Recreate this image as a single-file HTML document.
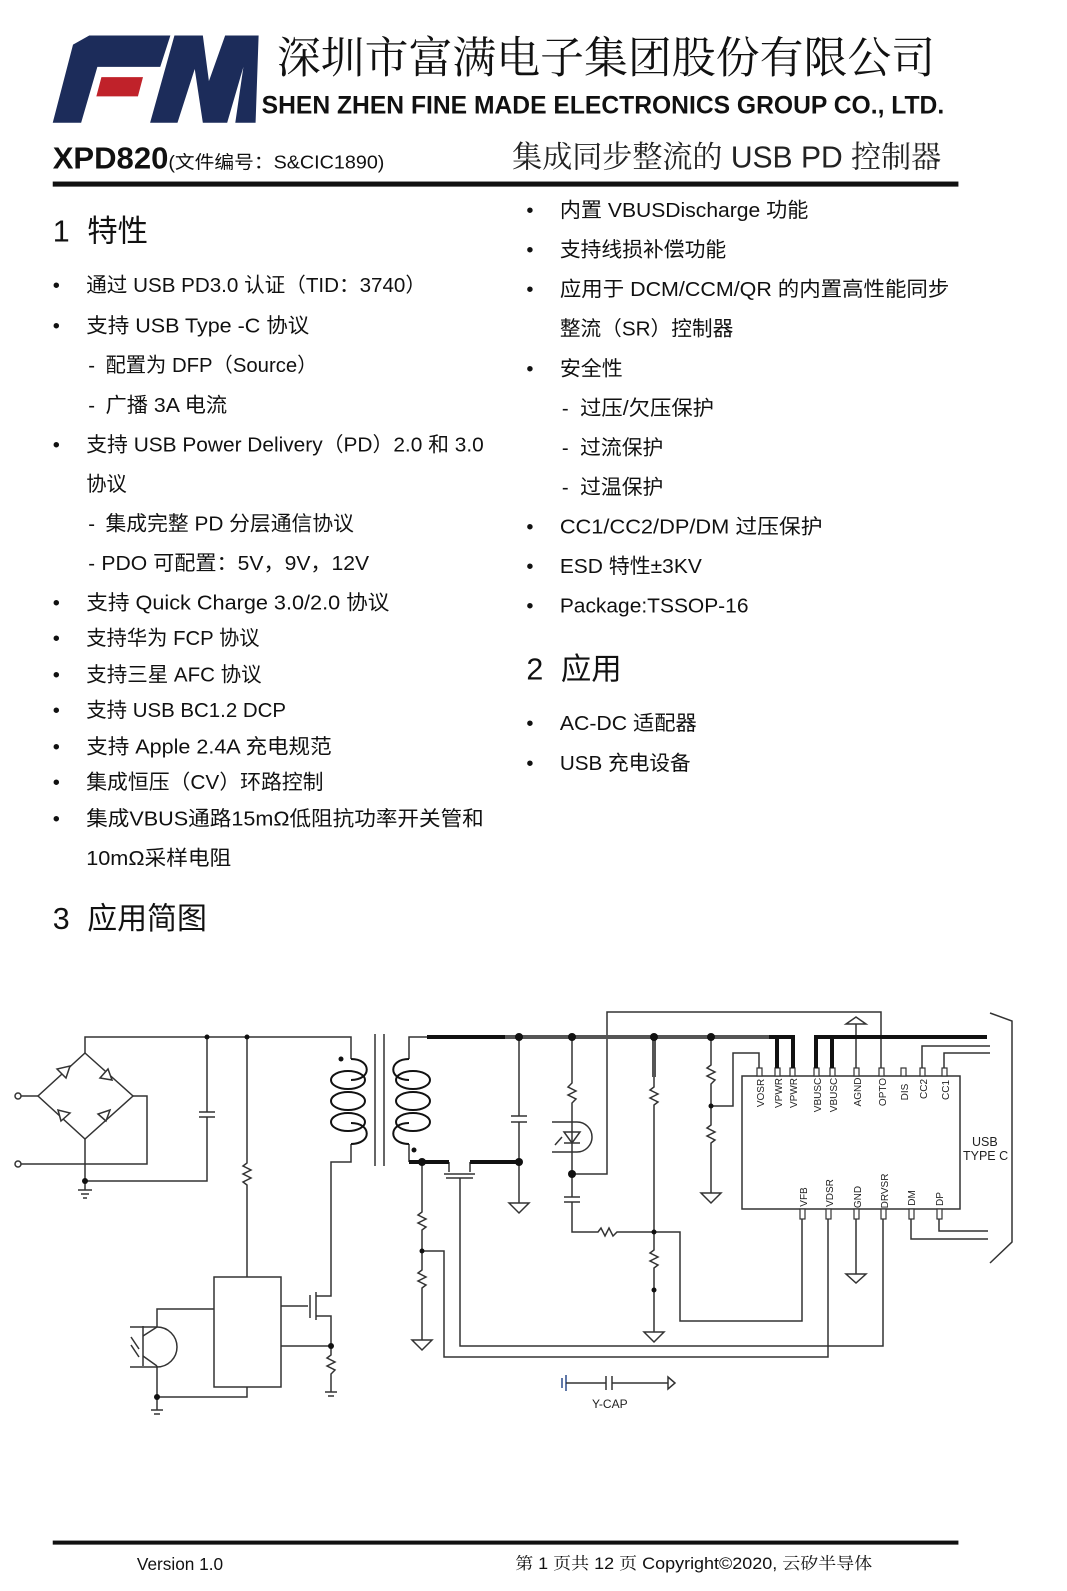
<!DOCTYPE html>
<html><head><meta charset="utf-8"><style>
html,body{margin:0;padding:0;background:#fff;overflow:hidden;width:1067px;height:1591px}
svg{display:block}
.t{font-family:"Liberation Sans","Noto Sans CJK SC",sans-serif;font-size:20px;fill:#111}
.h{font-family:"Liberation Sans","Noto Sans CJK SC",sans-serif;font-size:30px;fill:#111}
.p{font-family:"Liberation Sans",sans-serif;font-size:10px;fill:#222}
.w{stroke:#333;stroke-width:1.5;fill:none}
.k{stroke:#111;stroke-width:4;fill:none}
.g{stroke:#555;stroke-width:4;fill:none}
</style></head><body>
<svg width="1067" height="1591" viewBox="0 0 1067 1591" xmlns="http://www.w3.org/2000/svg">
<g transform="scale(1.0142)">
<!-- logo -->
<g fill="#1c2c5a">
<polygon points="52,121 80,121 96,66 158,66 168,35 88,35 72,44"/>
<polygon points="148,121 175,121 192,68 200,121 224,121 240,66 232,121 252,121 255,35 222,35 206,80 200,35 172,35"/>
</g>
<polygon points="100,76 141,76 136,95 95,95" fill="#c0222a"/>
<text x="273" y="72" font-family="'Noto Serif CJK SC','Liberation Serif',serif" font-size="43" fill="#111" textLength="649" lengthAdjust="spacingAndGlyphs">深圳市富满电子集团股份有限公司</text>
<text x="258" y="112" font-family="'Liberation Sans',sans-serif" font-weight="bold" font-size="25" fill="#111" textLength="673" lengthAdjust="spacingAndGlyphs">SHEN ZHEN FINE MADE ELECTRONICS GROUP CO., LTD.</text>
<text x="52" y="166" font-family="'Liberation Sans',sans-serif" font-weight="bold" font-size="30" fill="#111" textLength="114" lengthAdjust="spacingAndGlyphs">XPD820</text>
<text x="166" y="166" class="t" style="font-size:18px" textLength="213" lengthAdjust="spacingAndGlyphs">(文件编号：S&amp;CIC1890)</text>
<text x="505" y="165" font-family="'Liberation Sans','Noto Serif CJK SC',serif" font-size="30" fill="#222" textLength="423" lengthAdjust="spacingAndGlyphs">集成同步整流的 USB PD 控制器</text>
<rect x="52" y="179" width="893" height="5" fill="#111"/>

<text class="h" x="52" y="238">1</text><text class="h" x="86" y="238">特性</text>
<g class="t">
<text x="52" y="288">•</text><text x="85" y="288" textLength="335" lengthAdjust="spacingAndGlyphs">通过 USB PD3.0 认证（TID：3740）</text>
<text x="52" y="328">•</text><text x="85" y="328" textLength="220" lengthAdjust="spacingAndGlyphs">支持 USB Type -C  协议</text>
<text x="87" y="367">-</text><text x="104" y="367" textLength="209" lengthAdjust="spacingAndGlyphs">配置为 DFP（Source）</text>
<text x="87" y="406">-</text><text x="104" y="406" textLength="120" lengthAdjust="spacingAndGlyphs">广播 3A 电流</text>
<text x="52" y="445">•</text><text x="85" y="445" textLength="392" lengthAdjust="spacingAndGlyphs">支持 USB Power Delivery（PD）2.0 和 3.0</text>
<text x="85" y="484" textLength="40" lengthAdjust="spacingAndGlyphs">协议</text>
<text x="87" y="523">-</text><text x="104" y="523" textLength="245" lengthAdjust="spacingAndGlyphs">集成完整 PD 分层通信协议</text>
<text x="87" y="562">-</text><text x="100" y="562" textLength="264" lengthAdjust="spacingAndGlyphs">PDO 可配置：5V，9V，12V</text>
<text x="52" y="601">•</text><text x="85" y="601" textLength="299" lengthAdjust="spacingAndGlyphs">支持 Quick Charge 3.0/2.0 协议</text>
<text x="52" y="636">•</text><text x="85" y="636" textLength="171" lengthAdjust="spacingAndGlyphs">支持华为 FCP 协议</text>
<text x="52" y="672">•</text><text x="85" y="672" textLength="173" lengthAdjust="spacingAndGlyphs">支持三星 AFC 协议</text>
<text x="52" y="707">•</text><text x="85" y="707" textLength="197" lengthAdjust="spacingAndGlyphs">支持 USB BC1.2 DCP</text>
<text x="52" y="743">•</text><text x="85" y="743" textLength="242" lengthAdjust="spacingAndGlyphs">支持 Apple 2.4A 充电规范</text>
<text x="52" y="778">•</text><text x="85" y="778" textLength="234" lengthAdjust="spacingAndGlyphs">集成恒压（CV）环路控制</text>
<text x="52" y="814">•</text><text x="85" y="814" textLength="392" lengthAdjust="spacingAndGlyphs">集成VBUS通路15mΩ低阻抗功率开关管和</text>
<text x="85" y="853" textLength="143" lengthAdjust="spacingAndGlyphs">10mΩ采样电阻</text>
</g>
<g class="t">
<text x="519" y="214">•</text><text x="552" y="214" textLength="245" lengthAdjust="spacingAndGlyphs">内置 VBUSDischarge 功能</text>
<text x="519" y="253">•</text><text x="552" y="253" textLength="164" lengthAdjust="spacingAndGlyphs">支持线损补偿功能</text>
<text x="519" y="292">•</text><text x="552" y="292" textLength="384" lengthAdjust="spacingAndGlyphs">应用于 DCM/CCM/QR 的内置高性能同步</text>
<text x="552" y="331" textLength="171" lengthAdjust="spacingAndGlyphs">整流（SR）控制器</text>
<text x="519" y="370">•</text><text x="552" y="370" textLength="62" lengthAdjust="spacingAndGlyphs">安全性</text>
<text x="554" y="409">-</text><text x="572" y="409" textLength="132" lengthAdjust="spacingAndGlyphs">过压/欠压保护</text>
<text x="554" y="448">-</text><text x="572" y="448" textLength="82" lengthAdjust="spacingAndGlyphs">过流保护</text>
<text x="554" y="487">-</text><text x="572" y="487" textLength="82" lengthAdjust="spacingAndGlyphs">过温保护</text>
<text x="519" y="526">•</text><text x="552" y="526" textLength="259" lengthAdjust="spacingAndGlyphs">CC1/CC2/DP/DM 过压保护</text>
<text x="519" y="565">•</text><text x="552" y="565" textLength="140" lengthAdjust="spacingAndGlyphs">ESD 特性±3KV</text>
<text x="519" y="604">•</text><text x="552" y="604" textLength="186" lengthAdjust="spacingAndGlyphs">Package:TSSOP-16</text>
<text x="519" y="720">•</text><text x="552" y="720" textLength="135" lengthAdjust="spacingAndGlyphs">AC-DC 适配器</text>
<text x="519" y="759">•</text><text x="552" y="759" textLength="129" lengthAdjust="spacingAndGlyphs">USB 充电设备</text>
</g>
<text class="h" x="519" y="670">2</text><text class="h" x="553" y="670">应用</text>
<text class="h" x="52" y="916">3</text><text class="h" x="86" y="916" textLength="118" lengthAdjust="spacingAndGlyphs">应用简图</text>

<rect x="52" y="1519" width="893" height="4" fill="#111"/>
<text x="135" y="1548" font-family="'Liberation Sans',sans-serif" font-size="17" fill="#111">Version 1.0</text>
<text x="508" y="1547" font-family="'Liberation Sans','Noto Serif CJK SC',serif" font-size="16" fill="#111" textLength="352" lengthAdjust="spacingAndGlyphs">第 1 页共 12 页 Copyright©2020,  云矽半导体</text>
</g>

<!-- circuit (true coordinates) -->
<g class="w">
<polyline points="85,1053 85,1037 351,1037 351,1059"/>
<polyline points="207,1037 207,1112"/><polyline points="207,1117 207,1181 85,1181"/>
<line x1="199" y1="1112" x2="215" y2="1112"/><line x1="199" y1="1117" x2="215" y2="1117"/>
<polygon points="85,1053 133,1096 85,1139 38,1096"/>
<polygon points="57,1069 66,1078 70,1066" fill="#fff"/><polygon points="108,1069 100,1078 112,1080" fill="#fff"/>
<polygon points="61,1121 70,1113 58,1110" fill="#fff"/><polygon points="106,1121 98,1114 110,1110" fill="#fff"/>
<polyline points="18,1096 38,1096"/><polyline points="18,1164 147,1164 147,1096 133,1096"/>
<circle cx="18" cy="1096" r="3" fill="#fff"/><circle cx="18" cy="1164" r="3" fill="#fff"/>
<line x1="85" y1="1139" x2="85" y2="1190"/>
<line x1="78" y1="1190" x2="92" y2="1190"/><line x1="81" y1="1194" x2="89" y2="1194"/><line x1="83" y1="1198" x2="87" y2="1198"/>
<polyline points="247,1037 247,1163 243,1166 251,1170 243,1174 251,1178 243,1182 247,1185 247,1277"/>
<rect x="214" y="1277" width="67" height="110"/>
<polyline points="281,1306 308,1306"/><line x1="310" y1="1295" x2="310" y2="1318"/>
<line x1="316" y1="1292" x2="316" y2="1320"/>
<polyline points="316,1296 331,1296 331,1162 351,1162 351,1144"/>
<polyline points="316,1316 331,1316 331,1346"/>
<polyline points="281,1346 331,1346 331,1355 327,1358 335,1362 327,1366 335,1370 331,1374 331,1392"/>
<line x1="325" y1="1392" x2="337" y2="1392"/><line x1="328" y1="1396" x2="334" y2="1396"/>
<polyline points="214,1309 157,1309 157,1327"/>
<line x1="143" y1="1326" x2="143" y2="1366"/><line x1="143" y1="1336" x2="157" y2="1327"/><line x1="143" y1="1356" x2="157" y2="1366"/>
<path d="M157,1327 A20,20 0 0 1 157,1367"/>
<line x1="130" y1="1327" x2="157" y2="1327"/><line x1="130" y1="1367" x2="157" y2="1367"/>
<polyline points="157,1366 157,1397 247,1397 247,1387"/>
<line x1="157" y1="1397" x2="157" y2="1410"/>
<line x1="151" y1="1410" x2="163" y2="1410"/><line x1="154" y1="1414" x2="160" y2="1414"/>
<line x1="131" y1="1337" x2="139" y2="1349"/><line x1="131" y1="1345" x2="139" y2="1357"/>
<line x1="375" y1="1034" x2="375" y2="1166"/><line x1="384" y1="1034" x2="384" y2="1166"/>
<polyline points="409,1059 409,1037 427,1037"/>
<polyline points="409,1144 409,1162"/>
<polyline points="519,1037 519,1116"/><polyline points="519,1122 519,1203"/>
<line x1="511" y1="1116" x2="527" y2="1116"/><line x1="511" y1="1122" x2="527" y2="1122"/>
<polygon points="509,1203 529,1203 519,1213"/>
<line x1="444" y1="1174" x2="475" y2="1174"/><line x1="446" y1="1178" x2="473" y2="1178"/>
<polyline points="449,1162 449,1172"/><polyline points="470,1162 470,1172"/>
<polyline points="460,1178 460,1346 883,1346 883,1219"/>
<polyline points="422,1162 422,1212 418,1215 426,1219 418,1223 426,1227 422,1230 422,1251 422,1270 418,1273 426,1277 418,1281 426,1285 422,1288 422,1340"/>
<polygon points="412,1340 432,1340 422,1350"/>
<polyline points="422,1251 444,1251 444,1357 828,1357 828,1219"/>
<polyline points="572,1037 572,1083 568,1087 576,1091 568,1095 576,1099 572,1103 572,1197"/>
<line x1="564" y1="1197" x2="580" y2="1197"/><line x1="564" y1="1202" x2="580" y2="1202"/>
<polyline points="572,1202 572,1232 598,1232 601,1228 605,1236 609,1228 613,1236 617,1232 654,1232"/>
<polygon points="564,1132 580,1132 572,1143"/><line x1="564" y1="1143" x2="580" y2="1143"/>
<path d="M552,1122 L577,1122 A13,13 0 0 1 577,1152 L552,1152"/>
<line x1="555" y1="1145" x2="562" y2="1137"/>
<polyline points="572,1174 607,1174 607,1012 881,1012 881,1068"/>
<polyline points="654,1077 654,1087 650,1090 658,1094 650,1098 658,1102 654,1105 654,1250 650,1253 658,1257 650,1261 658,1265 654,1268 654,1332"/>
<polygon points="644,1332 664,1332 654,1342"/>
<polyline points="654,1232 680,1232 680,1321 802,1321 802,1219"/>
<polyline points="711,1037 711,1065 707,1068 715,1072 707,1076 715,1080 711,1084 711,1125 707,1128 715,1132 707,1136 715,1140 711,1143 711,1193"/>
<polygon points="701,1193 721,1193 711,1203"/>
<polyline points="711,1106 733,1106 733,1053 759,1053 759,1068"/>
<rect x="742" y="1076" width="218" height="133"/>
<polyline points="944,1068 944,1053 990,1053"/>
<polyline points="922,1068 922,1046 990,1046"/>
<line x1="856" y1="1068" x2="856" y2="1024"/>
<polygon points="846,1024 866,1024 856,1017" fill="#fff"/>
<line x1="856" y1="1219" x2="856" y2="1274"/>
<polygon points="846,1274 866,1274 856,1283"/>
<polyline points="911,1219 911,1239 988,1239"/>
<polyline points="939,1219 939,1231 988,1231"/>
<polyline points="990,1013 1012,1021 1012,1242 990,1263"/>
<line x1="562" y1="1378" x2="562" y2="1388" stroke="#2a4a8a"/><line x1="566" y1="1375" x2="566" y2="1391" stroke="#2a4a8a"/>
<polyline points="566,1383 606,1383"/><line x1="606" y1="1376" x2="606" y2="1390"/><line x1="612" y1="1376" x2="612" y2="1390"/>
<polyline points="612,1383 668,1383"/><polygon points="668,1377 675,1383 668,1389" fill="#fff"/>
</g>
<g stroke="#333" stroke-width="1.2" fill="#fff">
<rect x="757" y="1068" width="5" height="8"/><rect x="775" y="1068" width="5" height="8"/><rect x="790" y="1068" width="5" height="8"/>
<rect x="814" y="1068" width="5" height="8"/><rect x="830" y="1068" width="5" height="8"/><rect x="854" y="1068" width="5" height="8"/>
<rect x="879" y="1068" width="5" height="8"/><rect x="901" y="1068" width="5" height="8"/><rect x="920" y="1068" width="5" height="8"/><rect x="942" y="1068" width="5" height="8"/>
<rect x="800" y="1209" width="5" height="10"/><rect x="826" y="1209" width="5" height="10"/><rect x="854" y="1209" width="5" height="10"/>
<rect x="881" y="1209" width="5" height="10"/><rect x="909" y="1209" width="5" height="10"/><rect x="937" y="1209" width="5" height="10"/>
</g>
<g class="p">
<text transform="translate(764,1093) rotate(-90)" text-anchor="middle">VOSR</text>
<text transform="translate(782,1093) rotate(-90)" text-anchor="middle">VPWR</text>
<text transform="translate(797,1093) rotate(-90)" text-anchor="middle">VPWR</text>
<text transform="translate(821,1095) rotate(-90)" text-anchor="middle">VBUSC</text>
<text transform="translate(837,1095) rotate(-90)" text-anchor="middle">VBUSC</text>
<text transform="translate(861,1092) rotate(-90)" text-anchor="middle">AGND</text>
<text transform="translate(886,1092) rotate(-90)" text-anchor="middle">OPTO</text>
<text transform="translate(908,1092) rotate(-90)" text-anchor="middle">DIS</text>
<text transform="translate(927,1089) rotate(-90)" text-anchor="middle">CC2</text>
<text transform="translate(949,1090) rotate(-90)" text-anchor="middle">CC1</text>
<text transform="translate(807,1197) rotate(-90)" text-anchor="middle">VFB</text>
<text transform="translate(833,1193) rotate(-90)" text-anchor="middle">VDSR</text>
<text transform="translate(861,1197) rotate(-90)" text-anchor="middle">GND</text>
<text transform="translate(888,1191) rotate(-90)" text-anchor="middle">DRVSR</text>
<text transform="translate(915,1198) rotate(-90)" text-anchor="middle">DM</text>
<text transform="translate(943,1199) rotate(-90)" text-anchor="middle">DP</text>
<text x="972" y="1146" style="font-size:12.5px">USB</text>
<text x="963" y="1160" style="font-size:12.5px">TYPE C</text>
<text x="592" y="1408" style="font-size:12px">Y-CAP</text>
</g>
<g stroke="#111" stroke-width="2" fill="none">
<path d="M351,1059 C372,1059 372,1080 351,1080"/>
<ellipse cx="348" cy="1080" rx="17" ry="9"/><ellipse cx="348" cy="1101" rx="17" ry="9"/><ellipse cx="348" cy="1122" rx="17" ry="9"/>
<path d="M351,1123 C372,1123 372,1144 351,1144"/>
<path d="M409,1059 C388,1059 388,1080 409,1080"/>
<ellipse cx="413" cy="1080" rx="17" ry="9"/><ellipse cx="413" cy="1101" rx="17" ry="9"/><ellipse cx="413" cy="1122" rx="17" ry="9"/>
<path d="M409,1123 C388,1123 388,1144 409,1144"/>
</g>
<polyline class="g" points="427,1037 793,1037"/>
<polyline class="k" points="427,1037 505,1037"/>
<polyline class="k" points="409,1162 449,1162"/><polyline class="k" points="470,1162 519,1162"/>
<polyline class="g" points="654,1037 654,1077"/>
<polyline class="k" points="769,1037 793,1037 793,1068"/><polyline class="k" points="777,1037 777,1068"/>
<polyline class="k" points="816,1068 816,1037 987,1037"/><polyline class="k" points="832,1037 832,1068"/>
<g fill="#111">
<circle cx="207" cy="1037" r="2.5"/><circle cx="247" cy="1037" r="2.5"/><circle cx="85" cy="1181" r="3"/>
<circle cx="341" cy="1059" r="2.5"/><circle cx="414" cy="1150" r="2.5"/>
<circle cx="519" cy="1037" r="4"/><circle cx="572" cy="1037" r="4"/><circle cx="654" cy="1037" r="4"/><circle cx="711" cy="1037" r="4"/>
<circle cx="422" cy="1162" r="4"/><circle cx="519" cy="1162" r="4"/>
<circle cx="331" cy="1346" r="3"/><circle cx="157" cy="1397" r="3"/>
<circle cx="422" cy="1251" r="2.5"/><circle cx="572" cy="1174" r="4"/>
<circle cx="654" cy="1232" r="2.5"/><circle cx="654" cy="1290" r="2.5"/><circle cx="711" cy="1106" r="2.5"/>
</g>
</svg>
</body></html>
